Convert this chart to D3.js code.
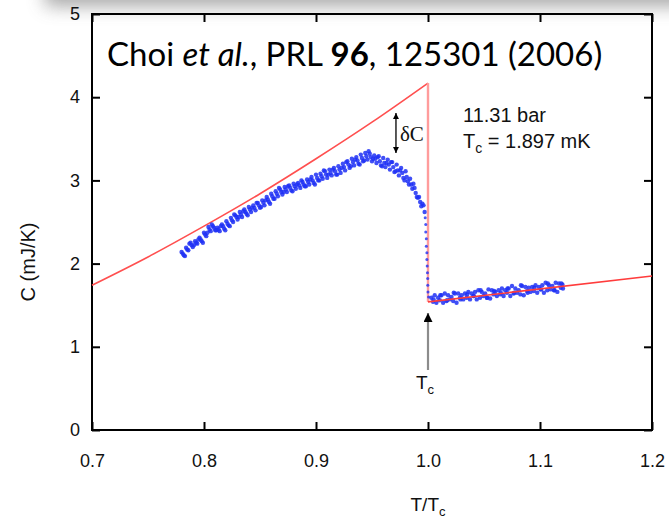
<!DOCTYPE html>
<html>
<head>
<meta charset="utf-8">
<script src="https://cdn.jsdelivr.net/npm/d3@7"></script>
<style>
  body { margin: 0; background: #fff; }
  svg { display: block; }
</style>
</head>
<body>
<svg id="chart" width="669" height="520"></svg>
<script>
// axis ticks
var xTicks = [0.7, 0.8, 0.9, 1.0, 1.1, 1.2];
var yTicks = [0, 1, 2, 3, 4, 5];

// red fit: superfluid side (extrapolated normal curve), drop at Tc, normal side
var fitT = [0.70, 0.75, 0.80, 0.85, 0.90, 0.95, 1.00];
var fitC = [1.74, 2.08, 2.45, 2.84, 3.26, 3.70, 4.17];
var dropT = [1.00, 1.00];
var dropC = [4.17, 1.54];
var normT = [1.00, 1.20];
var normC = [1.54, 1.85];

// measured points below Tc
var superPts = [
  [0.780,2.14],[0.782,2.10],[0.784,2.19],[0.786,2.16],[0.788,2.25],[0.790,2.20],
  [0.792,2.27],[0.794,2.24],[0.796,2.31],[0.798,2.27],[0.800,2.37],[0.802,2.33],
  [0.804,2.44],[0.806,2.39],[0.808,2.45],[0.810,2.40],[0.812,2.43],[0.814,2.39],
  [0.816,2.47],[0.818,2.42],[0.820,2.51],[0.822,2.46],[0.824,2.55],[0.826,2.50],
  [0.828,2.58],[0.830,2.53],[0.832,2.62],[0.834,2.56],[0.836,2.65],[0.838,2.60],
  [0.840,2.68],[0.842,2.62],[0.844,2.70],[0.846,2.64],[0.848,2.73],[0.850,2.67],
  [0.852,2.76],[0.854,2.70],[0.856,2.80],[0.858,2.74],[0.860,2.84],[0.862,2.78],
  [0.864,2.87],[0.866,2.81],[0.868,2.89],[0.870,2.83],[0.872,2.92],[0.874,2.86],
  [0.876,2.94],[0.878,2.88],[0.880,2.96],[0.882,2.90],[0.884,2.97],[0.886,2.91],
  [0.888,2.98],[0.890,2.93],[0.892,3.01],[0.894,2.95],[0.896,3.04],[0.898,2.97],
  [0.900,3.07],[0.902,3.00],[0.904,3.08],[0.906,3.02],[0.908,3.11],[0.910,3.03],
  [0.912,3.13],[0.914,3.06],[0.916,3.15],[0.918,3.07],[0.920,3.17],[0.922,3.09],
  [0.924,3.20],[0.926,3.12],[0.928,3.23],[0.930,3.15],[0.932,3.26],[0.934,3.18],
  [0.936,3.28],[0.938,3.20],[0.940,3.31],[0.942,3.23],[0.944,3.33],[0.946,3.25],
  [0.948,3.32],[0.950,3.23],[0.952,3.30],[0.954,3.21],[0.956,3.29],[0.958,3.18],
  [0.960,3.27],[0.962,3.16],[0.964,3.25],[0.966,3.13],[0.968,3.22],[0.970,3.10],
  [0.972,3.19],[0.974,3.06],[0.976,3.15],[0.978,3.03],[0.980,3.11],[0.982,2.99],
  [0.984,3.02],[0.986,2.90],[0.988,2.91],[0.990,2.80],[0.992,2.80],[0.994,2.69],
  [0.996,2.70],[0.997,2.62],
  [0.781,2.12],[0.785,2.17],[0.789,2.22],[0.793,2.25],[0.797,2.29],[0.801,2.35],
  [0.805,2.41],[0.809,2.43],[0.813,2.41],[0.817,2.45],[0.821,2.48],[0.825,2.52],
  [0.829,2.56],[0.833,2.59],[0.837,2.62],[0.841,2.65],[0.845,2.67],[0.849,2.70],
  [0.853,2.73],[0.857,2.77],[0.861,2.81],[0.865,2.84],[0.869,2.86],[0.873,2.89],
  [0.877,2.91],[0.881,2.93],[0.885,2.94],[0.889,2.95],[0.893,2.98],[0.897,3.00],
  [0.901,3.03],[0.905,3.05],[0.909,3.07],[0.913,3.09],[0.917,3.11],[0.921,3.13],
  [0.925,3.16],[0.929,3.19],[0.933,3.22],[0.937,3.24],[0.941,3.27],[0.945,3.29],
  [0.949,3.28],[0.953,3.26],[0.957,3.23],[0.961,3.21],[0.965,3.19],[0.969,3.16],
  [0.973,3.12],[0.977,3.09],[0.981,3.04],[0.985,2.95],[0.989,2.85],[0.993,2.74],
  [0.783,2.09],[0.787,2.24],[0.791,2.22],[0.795,2.29],[0.799,2.25],[0.803,2.37],
  [0.807,2.47],[0.811,2.40],[0.815,2.45],[0.819,2.40],[0.823,2.45],[0.827,2.59],
  [0.831,2.56],[0.835,2.63],[0.839,2.58],[0.843,2.67],[0.847,2.73],[0.851,2.68],
  [0.855,2.76],[0.859,2.72],[0.863,2.78],[0.867,2.91],[0.871,2.86],[0.875,2.93],
  [0.879,2.87],[0.883,2.95],[0.887,3.00],[0.891,2.93],[0.895,3.01],[0.899,2.95],
  [0.903,3.00],[0.907,3.12],[0.911,3.07],[0.915,3.13],[0.919,3.07],[0.923,3.15],
  [0.927,3.22],[0.931,3.17],[0.935,3.25],[0.939,3.19],[0.943,3.24],[0.947,3.35],
  [0.951,3.26],[0.955,3.28],[0.959,3.17],[0.963,3.21],[0.967,3.22],[0.971,3.11],
  [0.975,3.12],[0.979,3.00],[0.983,2.95],[0.987,2.96],[0.991,2.79],[0.995,2.72]
];

// points in the transition at Tc
var transPts = [
  [0.9975,2.55],[0.998,2.47],[0.998,2.38],[0.9985,2.30],[0.9985,2.21],[0.999,2.13],
  [0.999,2.05],[0.9993,1.97],[0.9995,1.89],[0.9997,1.82],[0.9998,1.74],[1.000,1.66],
  [1.0005,1.60]
];

// measured points above Tc
var normPts = [
  [1.003,1.59],[1.006,1.62],[1.009,1.59],[1.012,1.62],[1.015,1.64],[1.018,1.62],
  [1.021,1.60],[1.024,1.64],[1.027,1.64],[1.030,1.62],[1.033,1.64],[1.036,1.66],
  [1.039,1.64],[1.042,1.66],[1.045,1.68],[1.048,1.66],[1.051,1.64],[1.054,1.69],
  [1.057,1.68],[1.060,1.66],[1.063,1.68],[1.066,1.70],[1.069,1.68],[1.072,1.70],
  [1.075,1.73],[1.078,1.70],[1.081,1.68],[1.084,1.73],[1.087,1.72],[1.090,1.71],
  [1.093,1.72],[1.096,1.74],[1.099,1.72],[1.102,1.74],[1.105,1.77],[1.108,1.74],
  [1.111,1.73],[1.114,1.77],[1.117,1.76],[1.120,1.75],
  [1.0045,1.54],[1.0075,1.53],[1.0105,1.56],[1.0135,1.53],[1.0165,1.55],[1.0195,1.57],
  [1.0225,1.55],[1.0255,1.53],[1.0285,1.59],[1.0315,1.57],[1.0345,1.59],[1.0375,1.57],
  [1.0405,1.61],[1.0435,1.57],[1.0465,1.59],[1.0495,1.61],[1.0525,1.59],[1.0555,1.58],
  [1.0585,1.63],[1.0615,1.61],[1.0645,1.63],[1.0675,1.61],[1.0705,1.65],[1.0735,1.61],
  [1.0765,1.64],[1.0795,1.65],[1.0825,1.63],[1.0855,1.62],[1.0885,1.67],[1.0915,1.66],
  [1.0945,1.67],[1.0975,1.65],[1.1005,1.69],[1.1035,1.65],[1.1065,1.68],[1.1095,1.69],
  [1.1125,1.68],[1.1155,1.66],[1.1185,1.71],[1.1205,1.70],
  [1.005,1.57],[1.011,1.62],[1.017,1.56],[1.023,1.65],[1.029,1.57],[1.035,1.63],
  [1.041,1.61],[1.047,1.68],[1.053,1.59],[1.059,1.67],[1.065,1.65],[1.071,1.70],
  [1.077,1.65],[1.083,1.74],[1.089,1.65],[1.095,1.71],[1.101,1.69],[1.107,1.76],
  [1.113,1.68],[1.119,1.76]
];

// delta C arrow at this T, between the data and the fit
var dCt = 0.9714;
var dCtop = 3.81;
var dCbot = 3.33;

var svg = d3.select('#chart');
var pLeft = 92, pRight = 652, pTop = 14, pBottom = 430;

var x = d3.scaleLinear().domain([0.7, 1.2]).range([pLeft, pRight]);
var y = d3.scaleLinear().domain([0, 5]).range([pBottom, pTop]);

// soft shadow along the top edge
var defs = svg.append('defs');
defs.append('filter').attr('id', 'blur').attr('x', '-20%').attr('y', '-200%')
  .attr('width', '140%').attr('height', '500%')
  .append('feGaussianBlur').attr('stdDeviation', 9);
svg.append('rect')
  .attr('x', 45).attr('y', -34).attr('width', 700).attr('height', 40)
  .attr('fill', '#8a8a8a').attr('opacity', 0.75)
  .attr('filter', 'url(#blur)');

var font = "'Liberation Sans', Arial, sans-serif";

// axes, ticks pointing inwards
var xAxis = svg.append('g').attr('transform', 'translate(0,' + pBottom + ')')
  .call(d3.axisBottom(x).tickValues(xTicks).tickSize(-8).tickPadding(24)
    .tickFormat(d3.format('.1f')));
var yAxis = svg.append('g').attr('transform', 'translate(' + pLeft + ',0)')
  .call(d3.axisLeft(y).tickValues(yTicks).tickSize(-8).tickPadding(12)
    .tickFormat(d3.format('d')));
var xTop = svg.append('g').attr('transform', 'translate(0,' + pTop + ')')
  .call(d3.axisTop(x).tickValues(xTicks).tickSize(-8).tickFormat(''));
var yRight = svg.append('g').attr('transform', 'translate(' + pRight + ',0)')
  .call(d3.axisRight(y).tickValues(yTicks).tickSize(-8).tickFormat(''));

[xAxis, yAxis, xTop, yRight].forEach(function(g) {
  g.select('.domain').remove();
  g.selectAll('.tick line').attr('stroke', '#000').attr('stroke-width', 2);
  g.selectAll('.tick text').attr('font-family', font).attr('font-size', 18)
    .attr('fill', '#111');
});

svg.append('rect')
  .attr('x', pLeft).attr('y', pTop)
  .attr('width', pRight - pLeft).attr('height', pBottom - pTop)
  .attr('fill', 'none').attr('stroke', '#000').attr('stroke-width', 2);

// red fit lines
var line = d3.line().x(function(d) { return x(d[0]); }).y(function(d) { return y(d[1]); });
svg.append('path')
  .datum(d3.zip(fitT, fitC))
  .attr('d', line.curve(d3.curveMonotoneX))
  .attr('fill', 'none').attr('stroke', '#ff4f4f').attr('stroke-width', 1.6);
line.curve(d3.curveLinear);
svg.append('path')
  .datum(d3.zip(dropT, dropC))
  .attr('d', line)
  .attr('fill', 'none').attr('stroke', '#ff9c9c').attr('stroke-width', 2.4);

// data points
svg.append('g').selectAll('circle')
  .data(superPts.concat(normPts))
  .join('circle')
  .attr('cx', function(d) { return x(d[0]); })
  .attr('cy', function(d) { return y(d[1]); })
  .attr('r', 2.2)
  .attr('fill', '#1e30f5').attr('opacity', 0.85);
svg.append('g').selectAll('circle')
  .data(transPts)
  .join('circle')
  .attr('cx', function(d) { return x(d[0]); })
  .attr('cy', function(d) { return y(d[1]); })
  .attr('r', 1.5)
  .attr('fill', '#1e30f5').attr('opacity', 0.8);

svg.append('path')
  .datum(d3.zip(normT, normC))
  .attr('d', line)
  .attr('fill', 'none').attr('stroke', '#ff3c3c').attr('stroke-width', 1.6);

// arrow markers
function marker(id, color, w, h) {
  defs.append('marker').attr('id', id)
    .attr('viewBox', '0 0 10 10').attr('refX', 10).attr('refY', 5)
    .attr('markerUnits', 'userSpaceOnUse')
    .attr('markerWidth', w).attr('markerHeight', h)
    .attr('orient', 'auto-start-reverse')
    .append('path').attr('d', 'M0,0L10,5L0,10Z').attr('fill', color);
}
marker('arrBlack', '#000', 8, 6);
marker('arrTc', '#000', 10, 9);

// delta C double arrow
svg.append('line')
  .attr('x1', x(dCt)).attr('x2', x(dCt))
  .attr('y1', y(dCtop)).attr('y2', y(dCbot))
  .attr('stroke', '#000').attr('stroke-width', 1.3)
  .attr('marker-start', 'url(#arrBlack)').attr('marker-end', 'url(#arrBlack)');
svg.append('text')
  .attr('x', x(dCt) + 4).attr('y', 141)
  .attr('font-family', "'Liberation Serif', 'Times New Roman', serif")
  .attr('font-size', 21).attr('fill', '#111')
  .text('δC');

// Tc arrow
svg.append('line')
  .attr('x1', x(1.0)).attr('x2', x(1.0))
  .attr('y1', 370).attr('y2', 313)
  .attr('stroke', '#8c8c8c').attr('stroke-width', 2.2)
  .attr('marker-end', 'url(#arrTc)');
var tcLab = svg.append('text')
  .attr('x', x(1.0) - 3).attr('y', 389)
  .attr('text-anchor', 'middle')
  .attr('font-family', font).attr('font-size', 19).attr('fill', '#111');
tcLab.append('tspan').text('T');
tcLab.append('tspan').attr('font-size', 13).attr('dy', 5).text('c');

// conditions
svg.append('text')
  .attr('x', 463).attr('y', 122)
  .attr('font-family', font).attr('font-size', 20).attr('fill', '#111')
  .text('11.31 bar');
var tcText = svg.append('text')
  .attr('x', 463).attr('y', 148)
  .attr('font-family', font).attr('font-size', 20).attr('fill', '#111');
tcText.append('tspan').text('T');
tcText.append('tspan').attr('font-size', 14).attr('dy', 5).text('c');
tcText.append('tspan').attr('dy', -5).text(' = 1.897 mK');

// citation
var cite = svg.append('text')
  .attr('x', 107).attr('y', 66)
  .attr('font-family', "Lato, 'Open Sans', sans-serif")
  .attr('font-size', 33).attr('fill', '#000');
cite.append('tspan').text('Choi ');
cite.append('tspan').attr('font-style', 'italic').text('et al.');
cite.append('tspan').text(', PRL ');
cite.append('tspan').attr('font-weight', 'bold').text('96');
cite.append('tspan').text(', 125301 (2006)');

// axis titles
var xt = svg.append('text')
  .attr('x', x(1.0)).attr('y', 511)
  .attr('text-anchor', 'middle')
  .attr('font-family', font).attr('font-size', 19).attr('fill', '#111');
xt.append('tspan').text('T/T');
xt.append('tspan').attr('font-size', 13).attr('dy', 5).text('c');

svg.append('text')
  .attr('transform', 'translate(35,262) rotate(-90)')
  .attr('text-anchor', 'middle')
  .attr('font-family', font).attr('font-size', 20).attr('fill', '#111')
  .text('C (mJ/K)');
</script>
</body>
</html>
